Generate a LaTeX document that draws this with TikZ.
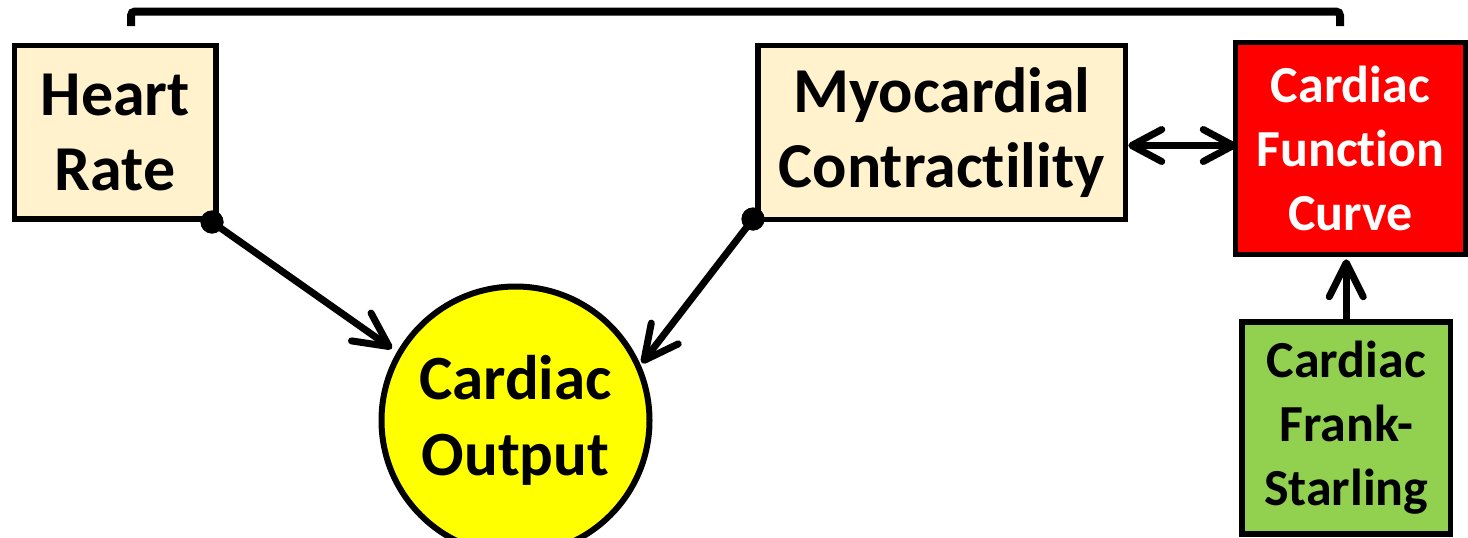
\documentclass[tikz,border=0pt]{standalone}
\usepackage{fontspec}
\setmainfont{Carlito}[Ligatures=NoCommon]
\usetikzlibrary{arrows.meta,calc}
\definecolor{boxtan}{HTML}{FFF2CC}
\definecolor{curvered}{HTML}{FF0000}
\definecolor{fsgreen}{HTML}{92D050}
\definecolor{outyellow}{HTML}{FFFF00}
\tikzset{
  box/.style={draw=black, line width=2.75pt, rectangle, align=center, inner sep=0pt},
  bigtext/.style={font=\bfseries\fontsize{32}{37.5}\selectfont},
  smalltext/.style={font=\bfseries\fontsize{26}{32}\selectfont},
  barb/.style={Straight Barb[length=17pt,width=17pt,line cap=round,line join=round]},
  link/.style={line width=3.5pt, line cap=round, line join=round, -{Straight Barb[length=17pt,width=17pt,line cap=round,line join=round]}},
  twoway/.style={line width=3.5pt, line cap=round, line join=round,
    {Straight Barb[length=15pt,width=16pt,line cap=round,line join=round]}-{Straight Barb[length=15pt,width=16pt,line cap=round,line join=round]}},
  dotend/.style={circle, fill=black, minimum size=11.5pt, inner sep=0pt},
  bracket/.style={line width=4pt, rounded corners=2pt},
}
\begin{document}
\begin{tikzpicture}[x=0.5pt,y=-0.5pt]
\useasboundingbox (0,0) rectangle (1468,537);

% boxes
\node[box, bigtext, fill=boxtan, minimum width=100.75pt, minimum height=86.75pt]
  (HR) at (115.25,132.25) {Heart\\Rate};
\node[box, bigtext, fill=boxtan, minimum width=183.75pt, minimum height=87pt]
  (MC) at (941.75,132.5) {Myocardial\\Contractility};
\node[box, smalltext, fill=curvered, text=white, minimum width=115pt, minimum height=106pt]
  (CFC) at (1350.5,148.5) {Cardiac\\Function\\Curve};
\node[box, smalltext, fill=fsgreen, minimum width=104.25pt, minimum height=106pt]
  (FS) at (1346.25,428) {Cardiac\\Frank-\\Starling};
\node[draw=black, line width=3pt, circle, fill=outyellow, minimum size=134pt, inner sep=0pt,
  align=center, font=\bfseries\fontsize{31.5}{38}\selectfont]
  (CO) at (515.5,420.5) {Cardiac\\Output};

% bracket joining heart rate and the function curve
\coordinate (bl) at (131,26);
\coordinate (br) at (1340,26);
\draw[bracket] (bl) -- (131,11.5) -- (1340,11.5) -- (br);

% influence arrows with dot origins
\node[dotend] (hrdot) at (212,222) {};
\node[dotend] (mcdot) at (753,219) {};
\draw[link, shorten >=3pt] (hrdot.center) -- (CO.150);
\draw[link, shorten >=1pt] (mcdot.center) -- (CO.24);
\node[dotend] at (hrdot) {};
\node[dotend] at (mcdot) {};

% contractility <-> function curve
\draw[twoway] ($(MC.east)+(0,13)$) -- ($(CFC.west)+(4,-3)$);

% Frank-Starling -> function curve
\draw[link, shorten >=1pt] (FS.north) -- (FS.north |- CFC.south);
\end{tikzpicture}
\end{document}
